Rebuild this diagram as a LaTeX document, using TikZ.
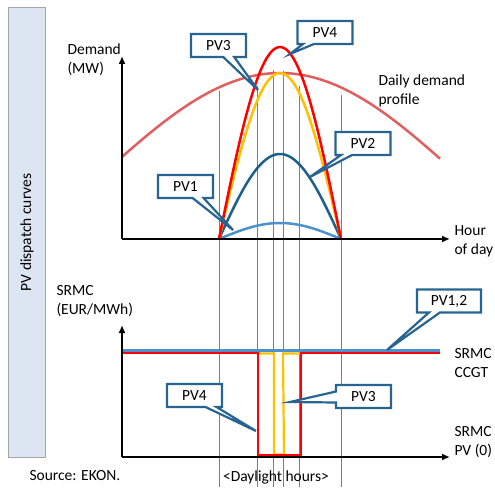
\documentclass[tikz,border=0pt]{standalone}
\usepackage{fontspec}
\setmainfont{Carlito}
\usetikzlibrary{shapes.callouts, arrows.meta}
\definecolor{demandred}{RGB}{224,95,95}
\definecolor{pvlight}{RGB}{74,145,205}
\definecolor{pvdark}{RGB}{31,95,140}
\definecolor{pvgold}{RGB}{255,192,0}
\definecolor{calloutblue}{RGB}{40,100,145}
\definecolor{barfill}{RGB}{220,230,242}
\definecolor{gridblue}{RGB}{70,140,200}

\tikzset{
  axis/.style={line width=2.4pt, ->},
  gridline/.style={gridblue, line width=0.8pt},
  pvbox/.style={rectangle callout, draw=calloutblue, line width=2.2pt, fill=white,
    minimum width=55pt, minimum height=23pt, callout pointer width=11pt},
  label/.style={align=left, anchor=west}
}

\begin{document}
\begin{tikzpicture}[x=10pt, y=10pt, >={Latex[length=8pt,width=7pt]},
  font=\fontsize{15.5}{19}\selectfont]
\useasboundingbox (-12.2,-24.8) rectangle (37.3,23.9);

% side bar
\node[draw=gray!70, fill=barfill, line width=0.8pt, minimum width=37pt,
  minimum height=450pt, anchor=north west] (bar) at (-11.4,23.2) {};
\node[rotate=90] (bartext) at (bar.center) {PV dispatch curves};

% vertical daylight lines
\foreach \x/\t in {9.7/14.8, 13.5/15.3, 15.1/16.9, 16.1/16.8, 17.7/15.3, 21.9/14.4}{
  \draw[gridline] (\x,\t) -- (\x,-24.8);
}

% demand profile
\draw[demandred, line width=2.5pt] plot[domain=0:31.8, samples=80, smooth]
  (\x, {16.6-10.1*(1-cos(5.08*(\x-15.8)))});

% PV curves
\foreach \c/\h in {pvlight/1.6, pvdark/8.5, pvgold/16.6, red/19.2}{
  \draw[\c, line width=2.5pt] plot[domain=9.7:21.9, samples=50, smooth]
    (\x, {\h*sin(180*(\x-9.7)/12.2)});
}

% upper axes
\coordinate (o1) at (0,0);
\draw[axis] (o1) -- (32.8,0);
\draw[axis] (o1) -- (0,18.3);
\node[label] (demand) at (-5.8,17.9) {Demand\\(MW)};
\node[label] (hour) at (32.9,-0.2) {Hour\\of day};
\node[label] (profile) at (25.3,14.8) {Daily demand\\profile};

% lower panel: SRMC
\draw[pvlight, line width=2.5pt] (0,-11.15) -- (31.8,-11.15);
\draw[pvgold, line width=2.2pt] (13.6,-11.45) -- (15.2,-11.45) -- (15.2,-21.55)
  -- (16.2,-21.55) -- (16.1,-11.45) -- (17.9,-11.45);
\draw[red, line width=2.5pt] (0,-11.4) -- (13.6,-11.4) -- (13.6,-21.6)
  -- (17.9,-21.6) -- (17.9,-11.4) -- (31.8,-11.4);

\coordinate (o2) at (0,-21.8);
\draw[axis] (o2) -- (32.8,-21.8);
\draw[axis] (o2) -- (0,-8.6);
\node[label] (srmc) at (-6.9,-6.2) {SRMC\\(EUR/MWh)};
\node[label] (ccgt) at (32.9,-12.4) {SRMC\\CCGT};
\node[label] (pvzero) at (32.9,-20.3) {SRMC\\PV (0)};

% callouts
\node[pvbox, callout absolute pointer={(13.6,14.9)}] (pv3) at (9.65,19.35) {PV3};
\node[pvbox, callout absolute pointer={(16.8,18.5)}] (pv4) at (20.3,20.65) {PV4};
\node[pvbox, callout absolute pointer={(18.8,6.2)}] (pv2) at (24.1,9.55) {PV2};
\node[pvbox, callout absolute pointer={(11.1,0.9)}] (pv1) at (6.35,5.25) {PV1};
\node[pvbox, minimum width=64pt, callout absolute pointer={(26.5,-11.1)}] (pv12) at (32.7,-6.2) {PV1,2};
\node[pvbox, callout absolute pointer={(13.4,-19.2)}] (pv4b) at (7.25,-15.65) {PV4};
\node[pvbox, callout absolute pointer={(16.8,-16.3)}] (pv3b) at (24.15,-15.75) {PV3};

% footer
\node[label] (source) at (-9.6,-23.7) {Source: EKON.};
\node (daylight) at (15.4,-23.8) {<Daylight hours>};

\end{tikzpicture}
\end{document}
